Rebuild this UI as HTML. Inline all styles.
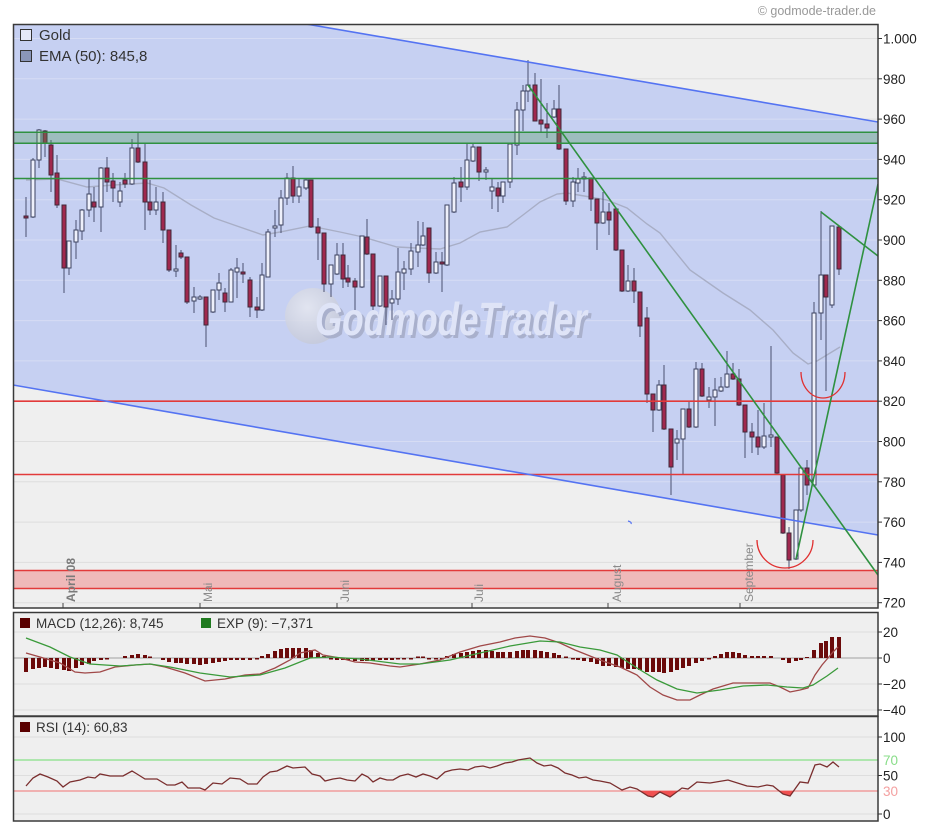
<!DOCTYPE html>
<html><head><meta charset="utf-8"><style>
html,body{margin:0;padding:0;background:#fff;}
svg{display:block;font-family:"Liberation Sans",sans-serif;}
.w line{stroke:#4a5070;stroke-width:1}
.b rect{fill:#eef0fb;stroke:#3c4260;stroke-width:1}
.r rect{fill:#a0284e;stroke:#40283a;stroke-width:1}
.m rect{fill:#6b0a0a}
.yl text{font-size:13.5px;fill:#222}
</style></head><body>
<svg width="936" height="833" viewBox="0 0 936 833" xmlns="http://www.w3.org/2000/svg">
<defs>
<clipPath id="cm"><rect x="13" y="24" width="865" height="584"/></clipPath>
<clipPath id="cb"><polygon points="13,24 306,24 878,122 878,535 13,385"/></clipPath>
<clipPath id="crsi"><rect x="13" y="791" width="865" height="30"/></clipPath>
<radialGradient id="wg" cx="0.4" cy="0.35" r="0.7"><stop offset="0" stop-color="#e6e8f0"/><stop offset="1" stop-color="#c4c8d8"/></radialGradient>
</defs>
<rect width="936" height="833" fill="#fff"/>
<text x="876" y="15" font-size="12.5" fill="#999" text-anchor="end">© godmode-trader.de</text>

<!-- MAIN PANEL -->
<g clip-path="url(#cm)">
<rect x="13" y="24" width="865" height="584" fill="#efefef"/>
<g stroke="#dedede" stroke-width="1">
<line x1="13" x2="878" y1="38.5" y2="38.5"/><line x1="13" x2="878" y1="78.8" y2="78.8"/><line x1="13" x2="878" y1="119.1" y2="119.1"/><line x1="13" x2="878" y1="159.4" y2="159.4"/><line x1="13" x2="878" y1="199.7" y2="199.7"/><line x1="13" x2="878" y1="240" y2="240"/><line x1="13" x2="878" y1="280.3" y2="280.3"/><line x1="13" x2="878" y1="320.6" y2="320.6"/><line x1="13" x2="878" y1="360.9" y2="360.9"/><line x1="13" x2="878" y1="401.2" y2="401.2"/><line x1="13" x2="878" y1="441.5" y2="441.5"/><line x1="13" x2="878" y1="481.8" y2="481.8"/><line x1="13" x2="878" y1="522.1" y2="522.1"/><line x1="13" x2="878" y1="562.4" y2="562.4"/><line x1="13" x2="878" y1="602.7" y2="602.7"/>
</g>
<polygon points="13,24 306,24 878,122 878,535 13,385" fill="#c6d0f2"/>
<g clip-path="url(#cb)" stroke="#d6dcf4" stroke-width="1">
<line x1="13" x2="878" y1="38.5" y2="38.5"/><line x1="13" x2="878" y1="78.8" y2="78.8"/><line x1="13" x2="878" y1="119.1" y2="119.1"/><line x1="13" x2="878" y1="159.4" y2="159.4"/><line x1="13" x2="878" y1="199.7" y2="199.7"/><line x1="13" x2="878" y1="240" y2="240"/><line x1="13" x2="878" y1="280.3" y2="280.3"/><line x1="13" x2="878" y1="320.6" y2="320.6"/><line x1="13" x2="878" y1="360.9" y2="360.9"/><line x1="13" x2="878" y1="401.2" y2="401.2"/><line x1="13" x2="878" y1="441.5" y2="441.5"/><line x1="13" x2="878" y1="481.8" y2="481.8"/><line x1="13" x2="878" y1="522.1" y2="522.1"/>
</g>

<!-- watermark -->
<circle cx="313" cy="316" r="28" fill="url(#wg)" opacity="0.85"/>
<text x="318" y="338" font-size="46" font-weight="bold" font-style="italic" fill="#a9b0cc" textLength="272" lengthAdjust="spacingAndGlyphs">GodmodeTrader</text>
<text x="315" y="335" font-size="46" font-weight="bold" font-style="italic" fill="#dfe4f7" textLength="272" lengthAdjust="spacingAndGlyphs">GodmodeTrader</text>

<!-- EMA -->
<polyline fill="none" stroke="#a8aec6" stroke-width="1.4" points="26,180 57,179 87,187 114,185 131,184 147,183 164,188 191,205 214,218 234,225 263,235 280,232 310,226 340,232 363,237 397,247 417,248 440,249 460,243 480,232 507,227 523,215 540,202 557,194 567,193 590,197 607,200 627,208 647,224 660,233 690,270 723,293 750,310 773,330 793,353 808,364 817,361 840,347"/>

<!-- wicks -->
<g class="w">
<line x1="26" x2="26" y1="197" y2="237"/><line x1="33" x2="33" y1="158" y2="218"/><line x1="39" x2="39" y1="129" y2="168"/><line x1="45" x2="45" y1="130" y2="157"/><line x1="51" x2="51" y1="140" y2="192"/><line x1="57" x2="57" y1="155" y2="208"/><line x1="64" x2="64" y1="205" y2="293"/><line x1="69" x2="69" y1="241" y2="275"/><line x1="76" x2="76" y1="220" y2="259"/><line x1="82" x2="82" y1="209" y2="240"/><line x1="89" x2="89" y1="178" y2="217"/><line x1="94" x2="94" y1="187" y2="222"/><line x1="101" x2="101" y1="167" y2="232"/><line x1="107" x2="107" y1="157" y2="192"/><line x1="113" x2="113" y1="173" y2="202"/><line x1="120" x2="120" y1="182" y2="207"/><line x1="125" x2="125" y1="173" y2="188"/><line x1="132" x2="132" y1="139" y2="185"/><line x1="138" x2="138" y1="132" y2="163"/><line x1="145" x2="145" y1="143" y2="230"/><line x1="150" x2="150" y1="180" y2="215"/><line x1="156" x2="156" y1="187" y2="215"/><line x1="163" x2="163" y1="192" y2="243"/><line x1="169" x2="169" y1="230" y2="272"/><line x1="176" x2="176" y1="245" y2="277"/><line x1="181" x2="181" y1="250" y2="259"/><line x1="187" x2="187" y1="257" y2="304"/><line x1="194" x2="194" y1="287" y2="313"/><line x1="200" x2="200" y1="295" y2="300"/><line x1="206" x2="206" y1="297" y2="347"/><line x1="213" x2="213" y1="290" y2="313"/><line x1="219" x2="219" y1="273" y2="300"/><line x1="225" x2="225" y1="288" y2="312"/><line x1="231" x2="231" y1="268" y2="302"/><line x1="237" x2="237" y1="258" y2="298"/><line x1="243" x2="243" y1="263" y2="283"/><line x1="250" x2="250" y1="277" y2="317"/><line x1="257" x2="257" y1="297" y2="318"/><line x1="262" x2="262" y1="263" y2="311"/><line x1="268" x2="268" y1="229" y2="277"/><line x1="275" x2="275" y1="210" y2="237"/><line x1="281" x2="281" y1="190" y2="233"/><line x1="287" x2="287" y1="173" y2="205"/><line x1="293" x2="293" y1="166" y2="203"/><line x1="299" x2="299" y1="178" y2="203"/><line x1="306" x2="306" y1="178" y2="190"/><line x1="311" x2="311" y1="180" y2="228"/><line x1="318" x2="318" y1="218" y2="260"/><line x1="324" x2="324" y1="233" y2="292"/><line x1="331" x2="331" y1="265" y2="297"/><line x1="337" x2="337" y1="243" y2="275"/><line x1="343" x2="343" y1="243" y2="288"/><line x1="348" x2="348" y1="265" y2="287"/><line x1="355" x2="355" y1="278" y2="310"/><line x1="362" x2="362" y1="236" y2="288"/><line x1="367" x2="367" y1="219" y2="255"/><line x1="373" x2="373" y1="254" y2="310"/><line x1="380" x2="380" y1="276" y2="307"/><line x1="386" x2="386" y1="276" y2="325"/><line x1="392" x2="392" y1="290" y2="320"/><line x1="398" x2="398" y1="248" y2="305"/><line x1="404" x2="404" y1="261" y2="290"/><line x1="411" x2="411" y1="243" y2="275"/><line x1="418" x2="418" y1="221" y2="267"/><line x1="423" x2="423" y1="222" y2="246"/><line x1="429" x2="429" y1="228" y2="283"/><line x1="436" x2="436" y1="252" y2="274"/><line x1="442" x2="442" y1="252" y2="292"/><line x1="447" x2="447" y1="205" y2="266"/><line x1="454" x2="454" y1="177" y2="213"/><line x1="461" x2="461" y1="167" y2="202"/><line x1="467" x2="467" y1="144" y2="190"/><line x1="473" x2="473" y1="143" y2="162"/><line x1="479" x2="479" y1="147" y2="181"/><line x1="486" x2="486" y1="167" y2="180"/><line x1="492" x2="492" y1="178" y2="209"/><line x1="498" x2="498" y1="182" y2="212"/><line x1="503" x2="503" y1="182" y2="203"/><line x1="510" x2="510" y1="144" y2="188"/><line x1="517" x2="517" y1="102" y2="155"/><line x1="523" x2="523" y1="85" y2="131"/><line x1="528" x2="528" y1="60" y2="102"/><line x1="535" x2="535" y1="73" y2="121"/><line x1="541" x2="541" y1="79" y2="132"/><line x1="547" x2="547" y1="103" y2="138"/><line x1="554" x2="554" y1="100" y2="118"/><line x1="559" x2="559" y1="85" y2="150"/><line x1="566" x2="566" y1="149" y2="205"/><line x1="573" x2="573" y1="177" y2="207"/><line x1="578" x2="578" y1="168" y2="192"/><line x1="584" x2="584" y1="172" y2="192"/><line x1="591" x2="591" y1="178" y2="211"/><line x1="597" x2="597" y1="199" y2="250"/><line x1="603" x2="603" y1="192" y2="224"/><line x1="609" x2="609" y1="203" y2="235"/><line x1="616" x2="616" y1="209" y2="251"/><line x1="622" x2="622" y1="250" y2="292"/><line x1="628" x2="628" y1="265" y2="292"/><line x1="634" x2="634" y1="268" y2="303"/><line x1="640" x2="640" y1="292" y2="337"/><line x1="647" x2="647" y1="307" y2="403"/><line x1="653" x2="653" y1="394" y2="432"/><line x1="659" x2="659" y1="380" y2="411"/><line x1="664" x2="664" y1="365" y2="430"/><line x1="671" x2="671" y1="429" y2="495"/><line x1="677" x2="677" y1="430" y2="460"/><line x1="683" x2="683" y1="409" y2="475"/><line x1="689" x2="689" y1="402" y2="428"/><line x1="696" x2="696" y1="362" y2="428"/><line x1="702" x2="702" y1="363" y2="397"/><line x1="709" x2="709" y1="387" y2="408"/><line x1="715" x2="715" y1="378" y2="426"/><line x1="721" x2="721" y1="377" y2="392"/><line x1="727" x2="727" y1="351" y2="388"/><line x1="733" x2="733" y1="363" y2="380"/><line x1="739" x2="739" y1="369" y2="406"/><line x1="745" x2="745" y1="405" y2="458"/><line x1="752" x2="752" y1="423" y2="453"/><line x1="758" x2="758" y1="410" y2="455"/><line x1="764" x2="764" y1="403" y2="449"/><line x1="771" x2="771" y1="346" y2="447"/><line x1="777" x2="777" y1="437" y2="474"/><line x1="783" x2="783" y1="475" y2="534"/><line x1="789" x2="789" y1="527" y2="569"/><line x1="796" x2="796" y1="510" y2="560"/><line x1="801" x2="801" y1="468" y2="512"/><line x1="807" x2="807" y1="460" y2="495"/><line x1="814" x2="814" y1="302" y2="487"/><line x1="821" x2="821" y1="211" y2="340"/><line x1="826" x2="826" y1="275" y2="391"/><line x1="832" x2="832" y1="226" y2="308"/><line x1="839" x2="839" y1="227" y2="275"/>
</g>

<!-- bull bodies -->
<g class="b">
<rect x="31" y="160" width="4" height="57"/><rect x="37" y="130" width="4" height="30"/><rect x="67" y="241" width="4" height="27"/><rect x="74" y="230" width="4" height="12"/><rect x="80" y="210" width="4" height="21"/><rect x="87" y="194" width="4" height="16"/><rect x="99" y="168" width="4" height="39"/><rect x="118" y="191" width="4" height="11"/><rect x="130" y="148" width="4" height="36"/><rect x="154" y="202" width="4" height="8"/><rect x="192" y="297" width="4" height="4"/><rect x="211" y="290" width="4" height="22"/><rect x="217" y="283" width="4" height="7"/><rect x="229" y="270" width="4" height="32"/><rect x="235" y="268" width="4" height="4"/><rect x="260" y="275" width="4" height="35"/><rect x="266" y="232" width="4" height="45"/><rect x="279" y="198" width="4" height="27"/><rect x="285" y="178" width="4" height="20"/><rect x="297" y="187" width="4" height="9"/><rect x="304" y="180" width="4" height="8"/><rect x="329" y="265" width="4" height="19"/><rect x="335" y="255" width="4" height="19"/><rect x="360" y="236" width="4" height="51"/><rect x="378" y="276" width="4" height="30"/><rect x="390" y="299" width="4" height="4"/><rect x="396" y="272" width="4" height="27"/><rect x="402" y="269" width="4" height="4"/><rect x="409" y="251" width="4" height="18"/><rect x="416" y="245" width="4" height="7"/><rect x="421" y="236" width="4" height="9"/><rect x="434" y="262" width="4" height="11"/><rect x="445" y="205" width="4" height="60"/><rect x="452" y="183" width="4" height="29"/><rect x="465" y="160" width="4" height="27"/><rect x="471" y="147" width="4" height="14"/><rect x="490" y="187" width="4" height="4"/><rect x="501" y="182" width="4" height="14"/><rect x="508" y="144" width="4" height="38"/><rect x="515" y="110" width="4" height="35"/><rect x="521" y="91" width="4" height="19"/><rect x="526" y="85" width="4" height="6"/><rect x="552" y="109" width="4" height="8"/><rect x="571" y="182" width="4" height="19"/><rect x="576" y="179" width="4" height="4"/><rect x="601" y="212" width="4" height="11"/><rect x="626" y="281" width="4" height="10"/><rect x="657" y="385" width="4" height="25"/><rect x="675" y="439" width="4" height="4"/><rect x="681" y="409" width="4" height="30"/><rect x="694" y="369" width="4" height="58"/><rect x="707" y="397" width="4" height="3"/><rect x="713" y="390" width="4" height="7"/><rect x="719" y="387" width="4" height="4"/><rect x="725" y="374" width="4" height="13"/><rect x="762" y="436" width="4" height="11"/><rect x="794" y="510" width="4" height="49"/><rect x="799" y="468" width="4" height="42"/><rect x="812" y="313" width="4" height="172"/><rect x="819" y="275" width="4" height="38"/><rect x="830" y="226" width="4" height="79"/>
<rect x="174" y="269" width="4" height="2"/><rect x="198" y="297" width="4" height="2"/><rect x="273" y="226" width="4" height="2"/><rect x="484" y="170" width="4" height="2"/><rect x="582" y="177" width="4" height="2"/><rect x="769" y="435" width="4" height="2"/>
</g>

<!-- bear bodies -->
<g class="r">
<rect x="24" y="216" width="4" height="2"/><rect x="43" y="131" width="4" height="12"/><rect x="49" y="145" width="4" height="30"/><rect x="55" y="173" width="4" height="32"/><rect x="62" y="205" width="4" height="63"/><rect x="92" y="202" width="4" height="5"/><rect x="105" y="168" width="4" height="14"/><rect x="111" y="181" width="4" height="7"/><rect x="123" y="180" width="4" height="4"/><rect x="136" y="148" width="4" height="14"/><rect x="143" y="162" width="4" height="40"/><rect x="148" y="202" width="4" height="8"/><rect x="161" y="202" width="4" height="28"/><rect x="167" y="230" width="4" height="40"/><rect x="179" y="253" width="4" height="4"/><rect x="185" y="257" width="4" height="45"/><rect x="204" y="297" width="4" height="28"/><rect x="223" y="293" width="4" height="9"/><rect x="241" y="272" width="4" height="2"/><rect x="248" y="280" width="4" height="27"/><rect x="255" y="307" width="4" height="3"/><rect x="291" y="178" width="4" height="18"/><rect x="309" y="180" width="4" height="47"/><rect x="316" y="227" width="4" height="6"/><rect x="322" y="233" width="4" height="51"/><rect x="341" y="255" width="4" height="24"/><rect x="346" y="278" width="4" height="4"/><rect x="353" y="281" width="4" height="6"/><rect x="365" y="237" width="4" height="17"/><rect x="371" y="254" width="4" height="52"/><rect x="384" y="276" width="4" height="31"/><rect x="427" y="228" width="4" height="45"/><rect x="440" y="262" width="4" height="2"/><rect x="459" y="182" width="4" height="5"/><rect x="477" y="147" width="4" height="25"/><rect x="496" y="188" width="4" height="8"/><rect x="533" y="85" width="4" height="36"/><rect x="539" y="120" width="4" height="4"/><rect x="545" y="124" width="4" height="4"/><rect x="557" y="109" width="4" height="40"/><rect x="564" y="149" width="4" height="52"/><rect x="589" y="178" width="4" height="21"/><rect x="595" y="199" width="4" height="24"/><rect x="607" y="212" width="4" height="8"/><rect x="614" y="209" width="4" height="41"/><rect x="620" y="250" width="4" height="41"/><rect x="632" y="281" width="4" height="10"/><rect x="638" y="292" width="4" height="34"/><rect x="645" y="318" width="4" height="76"/><rect x="651" y="394" width="4" height="16"/><rect x="662" y="385" width="4" height="44"/><rect x="669" y="429" width="4" height="38"/><rect x="687" y="409" width="4" height="18"/><rect x="700" y="369" width="4" height="27"/><rect x="731" y="374" width="4" height="5"/><rect x="737" y="379" width="4" height="26"/><rect x="743" y="405" width="4" height="27"/><rect x="750" y="432" width="4" height="5"/><rect x="756" y="437" width="4" height="10"/><rect x="775" y="437" width="4" height="36"/><rect x="781" y="475" width="4" height="58"/><rect x="787" y="533" width="4" height="27"/><rect x="805" y="468" width="4" height="17"/><rect x="824" y="275" width="4" height="22"/><rect x="837" y="227" width="4" height="42"/>
</g>

<!-- horizontal bands / lines -->
<rect x="13" y="132.2" width="865" height="11.1" fill="rgba(70,150,80,0.32)"/>
<g stroke="#2f9140" stroke-width="1.5">
<line x1="13" x2="878" y1="132.2" y2="132.2"/><line x1="13" x2="878" y1="143.3" y2="143.3"/><line x1="13" x2="878" y1="178.5" y2="178.5"/>
</g>
<rect x="13" y="570.5" width="865" height="18" fill="rgba(240,60,60,0.3)"/>
<g stroke="#e23a3a" stroke-width="1.6">
<line x1="13" x2="878" y1="401.2" y2="401.2"/><line x1="13" x2="878" y1="474.5" y2="474.5"/><line x1="13" x2="878" y1="570.5" y2="570.5"/><line x1="13" x2="878" y1="588.5" y2="588.5"/>
</g>
<!-- channel lines -->
<g stroke="#5473f2" stroke-width="1.6">
<line x1="306" y1="24" x2="878" y2="122"/><line x1="13" y1="385" x2="878" y2="535"/>
</g>
<path d="M628,521 q4,1 3,3" stroke="#5473f2" stroke-width="1.2" fill="none"/>
<!-- trend lines -->
<g stroke="#2f9140" stroke-width="1.6">
<line x1="528" y1="85" x2="878" y2="575"/>
<line x1="796" y1="559" x2="878" y2="184"/>
<line x1="821" y1="212" x2="878" y2="256"/>
</g>
<!-- arcs -->
<path d="M757,540 A28,28 0 0 0 813,540" stroke="#e03030" stroke-width="1.3" fill="none"/>
<path d="M801,372 A22,26 0 0 0 845,372" stroke="#e03030" stroke-width="1.3" fill="none"/>
</g>

<!-- month labels -->
<g font-size="12" fill="#8a8a8a">
<text transform="translate(75,602) rotate(-90)" font-weight="bold" fill="#7a7a7a">April 08</text>
<text transform="translate(212,602) rotate(-90)">Mai</text>
<text transform="translate(349,602) rotate(-90)">Juni</text>
<text transform="translate(483,602) rotate(-90)">Juli</text>
<text transform="translate(621,602) rotate(-90)">August</text>
<text transform="translate(753,602) rotate(-90)">September</text>
</g>
<g stroke="#444" stroke-width="1">
<line x1="63" x2="63" y1="603" y2="608"/><line x1="200" x2="200" y1="603" y2="608"/><line x1="337" x2="337" y1="603" y2="608"/><line x1="472" x2="472" y1="603" y2="608"/><line x1="608" x2="608" y1="603" y2="608"/><line x1="740" x2="740" y1="603" y2="608"/>
</g>

<!-- legend main -->
<rect x="20.5" y="29.5" width="11" height="11" fill="#e4e8f8" stroke="#333" stroke-width="1"/>
<text x="39" y="40" font-size="15" fill="#333">Gold</text>
<rect x="20.5" y="50.5" width="11" height="11" fill="#8a96b8" stroke="#333" stroke-width="1"/>
<text x="39" y="61" font-size="15" fill="#333">EMA (50): 845,8</text>

<rect x="13.5" y="24.5" width="864.5" height="583.5" fill="none" stroke="#3a3a3a" stroke-width="1.5"/>

<!-- main y labels -->
<g stroke="#333" stroke-width="1">
<line x1="878" x2="882" y1="38.5" y2="38.5"/><line x1="878" x2="882" y1="78.8" y2="78.8"/><line x1="878" x2="882" y1="119.1" y2="119.1"/><line x1="878" x2="882" y1="159.4" y2="159.4"/><line x1="878" x2="882" y1="199.7" y2="199.7"/><line x1="878" x2="882" y1="240" y2="240"/><line x1="878" x2="882" y1="280.3" y2="280.3"/><line x1="878" x2="882" y1="320.6" y2="320.6"/><line x1="878" x2="882" y1="360.9" y2="360.9"/><line x1="878" x2="882" y1="401.2" y2="401.2"/><line x1="878" x2="882" y1="441.5" y2="441.5"/><line x1="878" x2="882" y1="481.8" y2="481.8"/><line x1="878" x2="882" y1="522.1" y2="522.1"/><line x1="878" x2="882" y1="562.4" y2="562.4"/><line x1="878" x2="882" y1="602.7" y2="602.7"/>
</g>
<g class="yl">
<text x="883" y="43.5">1.000</text><text x="883" y="83.8">980</text><text x="883" y="124.1">960</text><text x="883" y="164.4">940</text><text x="883" y="204.7">920</text><text x="883" y="245">900</text><text x="883" y="285.3">880</text><text x="883" y="325.6">860</text><text x="883" y="365.9">840</text><text x="883" y="406.2">820</text><text x="883" y="446.5">800</text><text x="883" y="486.8">780</text><text x="883" y="527.1">760</text><text x="883" y="567.4">740</text><text x="883" y="607.7">720</text>
</g>

<!-- MACD PANEL -->
<rect x="13" y="612" width="865" height="104" fill="#efefef"/>
<g stroke="#dedede" stroke-width="1">
<line x1="13" x2="878" y1="632" y2="632"/><line x1="13" x2="878" y1="684" y2="684"/><line x1="13" x2="878" y1="710" y2="710"/>
</g>
<line x1="13" x2="878" y1="658" y2="658" stroke="#a0a0a0" stroke-width="1"/>
<g class="m">
<rect x="24" y="658" width="4" height="14"/><rect x="31" y="658" width="4" height="11"/><rect x="37" y="658" width="4" height="10"/><rect x="43" y="658" width="4" height="9"/><rect x="49" y="658" width="4" height="10"/><rect x="55" y="658" width="4" height="11"/><rect x="62" y="658" width="4" height="12"/><rect x="67" y="658" width="4" height="13"/><rect x="74" y="658" width="4" height="10"/><rect x="80" y="658" width="4" height="7"/><rect x="87" y="658" width="4" height="6"/><rect x="92" y="658" width="4" height="3"/><rect x="99" y="658" width="4" height="2"/><rect x="105" y="658" width="4" height="1.5"/>
<rect x="123" y="656" width="4" height="2"/><rect x="130" y="655" width="4" height="3"/><rect x="136" y="654" width="4" height="4"/><rect x="143" y="655" width="4" height="3"/><rect x="148" y="656.5" width="4" height="1.5"/>
<rect x="161" y="658" width="4" height="2"/><rect x="167" y="658" width="4" height="4"/><rect x="174" y="658" width="4" height="5"/><rect x="179" y="658" width="4" height="5"/><rect x="185" y="658" width="4" height="6"/><rect x="192" y="658" width="4" height="6"/><rect x="198" y="658" width="4" height="7"/><rect x="204" y="658" width="4" height="6"/><rect x="211" y="658" width="4" height="5"/><rect x="217" y="658" width="4" height="4"/><rect x="223" y="658" width="4" height="3"/><rect x="229" y="658" width="4" height="2"/><rect x="235" y="658" width="4" height="2"/><rect x="241" y="658" width="4" height="2"/><rect x="248" y="658" width="4" height="2"/><rect x="255" y="658" width="4" height="1.5"/>
<rect x="260" y="656" width="4" height="2"/><rect x="266" y="654" width="4" height="4"/><rect x="273" y="651" width="4" height="7"/><rect x="279" y="649" width="4" height="9"/><rect x="285" y="648" width="4" height="10"/><rect x="291" y="648" width="4" height="10"/><rect x="297" y="648" width="4" height="10"/><rect x="304" y="648" width="4" height="10"/><rect x="309" y="650" width="4" height="8"/><rect x="316" y="653" width="4" height="5"/><rect x="322" y="656" width="4" height="2"/>
<rect x="329" y="658" width="4" height="1.5"/><rect x="335" y="658" width="4" height="2"/><rect x="341" y="658" width="4" height="2"/><rect x="346" y="658" width="4" height="2"/><rect x="353" y="658" width="4" height="3"/><rect x="360" y="658" width="4" height="3"/><rect x="365" y="658" width="4" height="3"/><rect x="371" y="658" width="4" height="3"/><rect x="378" y="658" width="4" height="2"/><rect x="384" y="658" width="4" height="2"/><rect x="390" y="658" width="4" height="2"/><rect x="396" y="658" width="4" height="1.5"/><rect x="402" y="658" width="4" height="1.5"/><rect x="409" y="658" width="4" height="1.5"/>
<rect x="416" y="656.5" width="4" height="1.5"/><rect x="421" y="656.5" width="4" height="1.5"/><rect x="427" y="658" width="4" height="1.5"/><rect x="434" y="658" width="4" height="1.5"/><rect x="440" y="658" width="4" height="1.5"/>
<rect x="445" y="656" width="4" height="2"/><rect x="452" y="654" width="4" height="4"/><rect x="459" y="653" width="4" height="5"/><rect x="465" y="652" width="4" height="6"/><rect x="471" y="651" width="4" height="7"/><rect x="477" y="650" width="4" height="8"/><rect x="484" y="650" width="4" height="8"/><rect x="490" y="651" width="4" height="7"/><rect x="496" y="652" width="4" height="6"/><rect x="501" y="652" width="4" height="6"/><rect x="508" y="652" width="4" height="6"/><rect x="515" y="651" width="4" height="7"/><rect x="521" y="650" width="4" height="8"/><rect x="526" y="650" width="4" height="8"/><rect x="533" y="650" width="4" height="8"/><rect x="539" y="651" width="4" height="7"/><rect x="545" y="652" width="4" height="6"/><rect x="552" y="653" width="4" height="5"/><rect x="557" y="655" width="4" height="3"/><rect x="564" y="656.5" width="4" height="1.5"/>
<rect x="571" y="658" width="4" height="1.5"/><rect x="576" y="658" width="4" height="2"/><rect x="582" y="658" width="4" height="3"/><rect x="589" y="658" width="4" height="4"/><rect x="595" y="658" width="4" height="6"/><rect x="601" y="658" width="4" height="8"/><rect x="607" y="658" width="4" height="8"/><rect x="614" y="658" width="4" height="9"/><rect x="620" y="658" width="4" height="10"/><rect x="626" y="658" width="4" height="11"/><rect x="632" y="658" width="4" height="11"/><rect x="638" y="658" width="4" height="12"/><rect x="645" y="658" width="4" height="14"/><rect x="651" y="658" width="4" height="14"/><rect x="657" y="658" width="4" height="14"/><rect x="662" y="658" width="4" height="15"/><rect x="669" y="658" width="4" height="14"/><rect x="675" y="658" width="4" height="12"/><rect x="681" y="658" width="4" height="10"/><rect x="687" y="658" width="4" height="8"/><rect x="694" y="658" width="4" height="5"/><rect x="700" y="658" width="4" height="3"/><rect x="707" y="658" width="4" height="1.5"/>
<rect x="713" y="656" width="4" height="2"/><rect x="719" y="654" width="4" height="4"/><rect x="725" y="652" width="4" height="6"/><rect x="731" y="652" width="4" height="6"/><rect x="737" y="653" width="4" height="5"/><rect x="743" y="655" width="4" height="3"/><rect x="750" y="656" width="4" height="2"/><rect x="756" y="656" width="4" height="2"/><rect x="762" y="656" width="4" height="2"/><rect x="769" y="656" width="4" height="2"/>
<rect x="781" y="658" width="4" height="2"/><rect x="787" y="658" width="4" height="5"/><rect x="794" y="658" width="4" height="3"/><rect x="799" y="658" width="4" height="2"/>
<rect x="805" y="657" width="4" height="1"/><rect x="812" y="650" width="4" height="8"/><rect x="819" y="643" width="4" height="15"/><rect x="824" y="641" width="4" height="17"/><rect x="830" y="637" width="4" height="21"/><rect x="837" y="637" width="4" height="21"/>
</g>
<polyline fill="none" stroke="#a04848" stroke-width="1.3" points="26,653 40,657 60,663 75,672 85,673 100,672 115,667 135,665 150,664 165,667 185,673 205,681 225,679 245,675 260,674 275,668 290,660 300,653 315,650 323,655 340,658 355,662 370,663 390,666 400,667 420,664 440,660 460,652 480,646 500,642 515,638 530,636 545,638 560,643 575,650 590,656 600,660 620,667 637,675 650,687 663,695 677,700 690,700 700,695 713,689 733,683 747,683 770,683 780,687 790,692 800,690 808,688 815,675 822,665 828,658 833,652 838,647"/>
<polyline fill="none" stroke="#3a9a3a" stroke-width="1.3" points="26,638 50,647 70,657 90,664 120,666 150,664 170,667 200,673 230,677 260,675 285,668 310,658 330,657 360,659 400,664 420,664 450,660 480,653 510,646 540,641 560,642 580,647 600,650 617,655 637,668 657,680 677,689 697,693 720,690 743,686 767,685 787,687 803,688 813,685 827,676 838,668"/>
<rect x="20" y="618" width="10" height="10" fill="#5a0000"/>
<text x="36" y="628" font-size="13.5" fill="#333">MACD (12,26): 8,745</text>
<rect x="201" y="618" width="10" height="10" fill="#1f7a1f"/>
<text x="217" y="628" font-size="13.5" fill="#333">EXP (9): −7,371</text>
<rect x="13.5" y="612.5" width="864.5" height="103.5" fill="none" stroke="#3a3a3a" stroke-width="1.5"/>
<g stroke="#333" stroke-width="1">
<line x1="878" x2="882" y1="632" y2="632"/><line x1="878" x2="882" y1="658" y2="658"/><line x1="878" x2="882" y1="684" y2="684"/><line x1="878" x2="882" y1="710" y2="710"/>
</g>
<g class="yl">
<text x="883" y="637">20</text><text x="883" y="663">0</text><text x="883" y="689">−20</text><text x="883" y="715">−40</text>
</g>

<!-- RSI PANEL -->
<rect x="13" y="716" width="865" height="105" fill="#efefef"/>
<g stroke="#dedede" stroke-width="1">
<line x1="13" x2="878" y1="737" y2="737"/><line x1="13" x2="878" y1="775.5" y2="775.5"/><line x1="13" x2="878" y1="814" y2="814"/>
</g>
<line x1="13" x2="878" y1="760" y2="760" stroke="#88e088" stroke-width="1.2"/>
<line x1="13" x2="878" y1="791" y2="791" stroke="#f08c8c" stroke-width="1.2"/>
<path clip-path="url(#crsi)" fill="#f05050" d="M26,786 L33,778 L40,774 L48,777 L57,781 L63,787 L70,782 L80,780 L88,777 L95,778 L100,774 L110,776 L123,776 L132,771 L137,774 L145,779 L157,779 L167,785 L175,785 L182,782 L188,788 L200,788 L205,790 L213,783 L222,784 L230,778 L240,779 L248,784 L257,784 L263,777 L270,772 L277,771 L287,766 L293,768 L305,767 L312,774 L320,776 L325,781 L333,779 L340,778 L347,780 L355,781 L362,774 L368,777 L373,782 L380,778 L387,780 L393,780 L400,776 L408,774 L416,777 L423,774 L430,776 L437,779 L445,772 L452,770 L460,769 L468,770 L475,767 L483,766 L490,768 L497,766 L505,763 L512,762 L518,760 L524,759 L530,758 L537,763 L544,766 L551,765 L558,768 L565,773 L572,775 L579,778 L586,777 L593,780 L600,781 L610,783 L622,790 L630,787 L637,789 L648,796 L653,797 L660,792 L670,797 L682,788 L688,789 L697,782 L710,783 L728,780 L747,786 L758,787 L767,785 L773,786 L783,794 L790,796 L800,782 L808,783 L815,765 L820,764 L827,767 L833,762 L839,767 L839,791 L26,791 Z"/>
<polyline fill="none" stroke="#7a2e2e" stroke-width="1.3" points="26,786 33,778 40,774 48,777 57,781 63,787 70,782 80,780 88,777 95,778 100,774 110,776 123,776 132,771 137,774 145,779 157,779 167,785 175,785 182,782 188,788 200,788 205,790 213,783 222,784 230,778 240,779 248,784 257,784 263,777 270,772 277,771 287,766 293,768 305,767 312,774 320,776 325,781 333,779 340,778 347,780 355,781 362,774 368,777 373,782 380,778 387,780 393,780 400,776 408,774 416,777 423,774 430,776 437,779 445,772 452,770 460,769 468,770 475,767 483,766 490,768 497,766 505,763 512,762 518,760 524,759 530,758 537,763 544,766 551,765 558,768 565,773 572,775 579,778 586,777 593,780 600,781 610,783 622,790 630,787 637,789 648,796 653,797 660,792 670,797 682,788 688,789 697,782 710,783 728,780 747,786 758,787 767,785 773,786 783,794 790,796 800,782 808,783 815,765 820,764 827,767 833,762 839,767"/>
<rect x="20" y="722" width="10" height="10" fill="#5a0000"/>
<text x="36" y="732" font-size="13.5" fill="#333">RSI (14): 60,83</text>
<rect x="13.5" y="716.5" width="864.5" height="104.5" fill="none" stroke="#3a3a3a" stroke-width="1.5"/>
<g stroke="#333" stroke-width="1">
<line x1="878" x2="882" y1="737" y2="737"/><line x1="878" x2="882" y1="775.5" y2="775.5"/><line x1="878" x2="882" y1="814" y2="814"/>
</g>
<g class="yl">
<text x="883" y="742">100</text><text x="883" y="765" style="fill:#88dd88">70</text><text x="883" y="780.5">50</text><text x="883" y="796" style="fill:#f4a0a0">30</text><text x="883" y="819">0</text>
</g>
</svg>
</body></html>
